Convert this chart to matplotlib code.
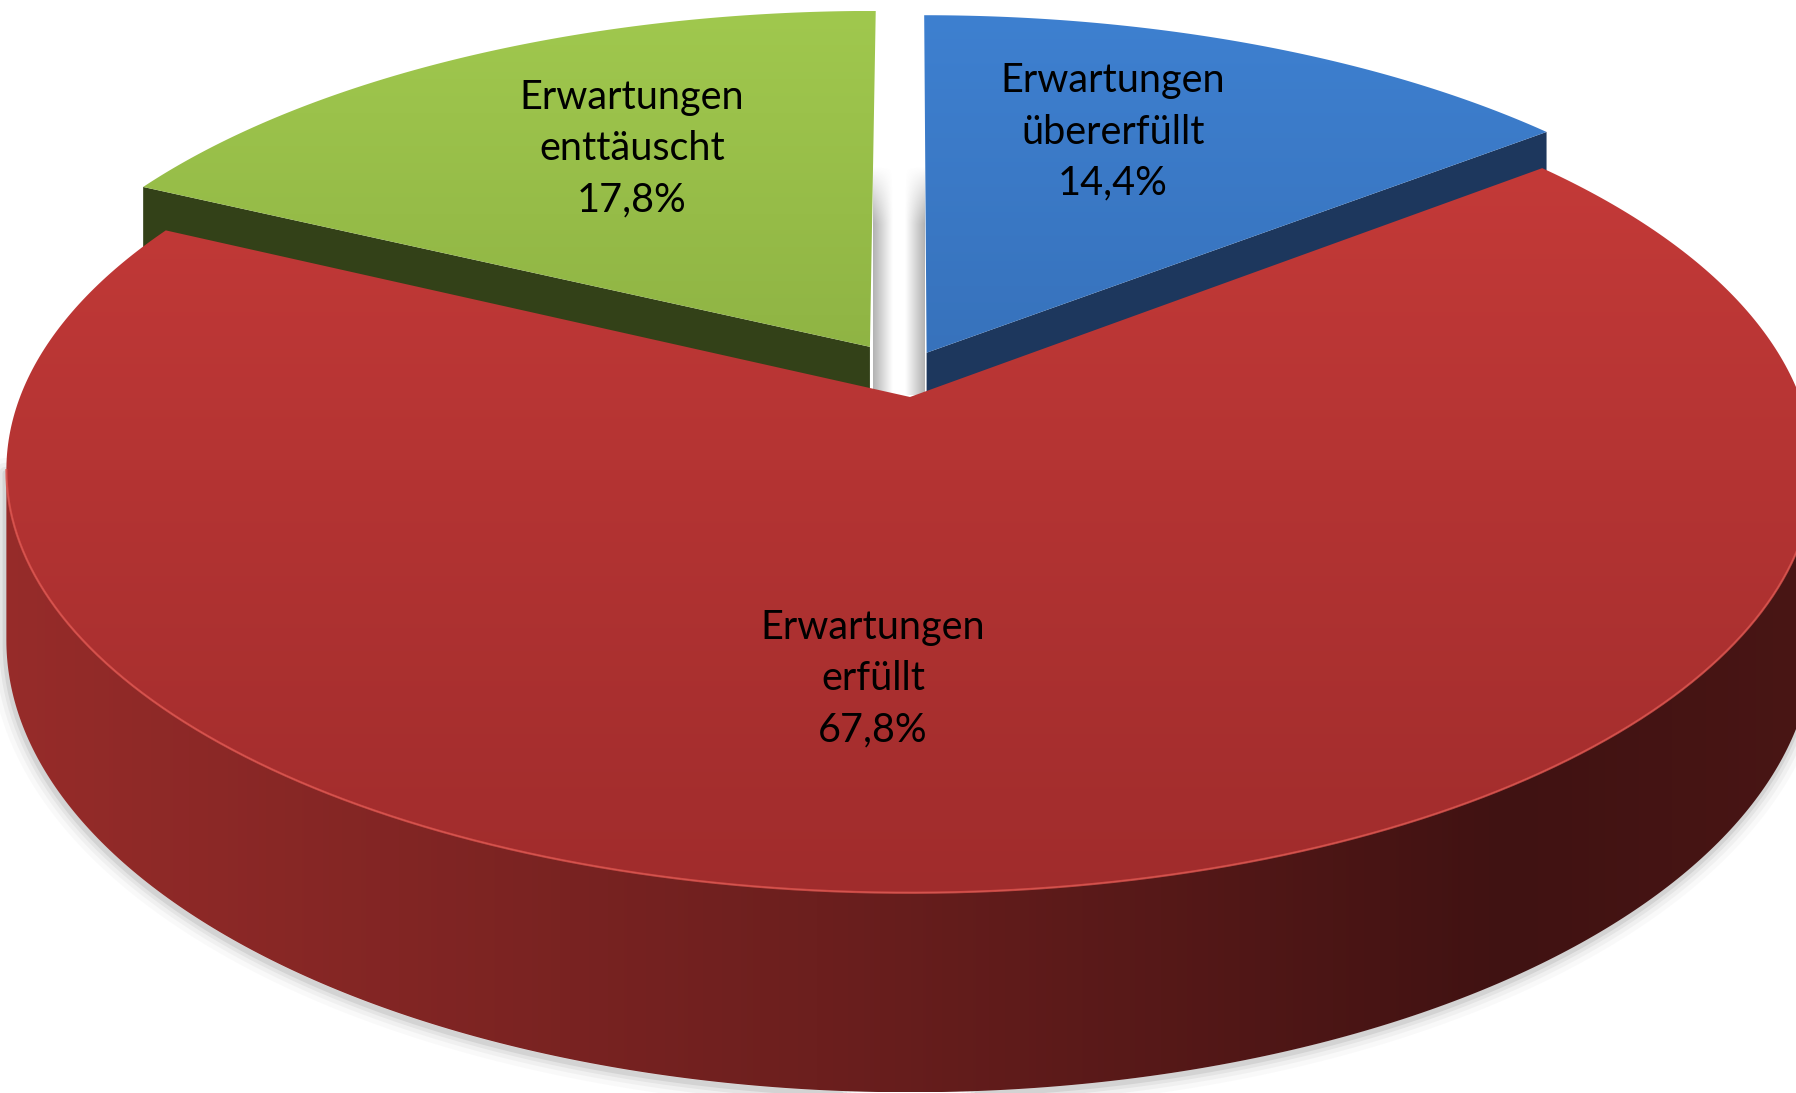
import numpy as np
import matplotlib.pyplot as plt
from matplotlib.patches import Polygon

# chart data
labels = ['Erwartungen\nübererfüllt', 'Erwartungen\nerfüllt', 'Erwartungen\nenttäuscht']
shares = [14.4, 67.8, 17.8]

# styles per slice: top light, top dark, cut face
top_light = [(62, 128, 208), (201, 60, 58), (160, 200, 78)]
top_dark = [(45, 95, 160), (160, 44, 44), (120, 152, 54)]
face_col = [(29, 55, 93), (90, 25, 25), (51, 65, 24)]
explode = [(0.019, 0.11), (0.0, 0.0), (-0.046, 0.125)]
label_xy = [(1113, 132), (873, 679), (632, 149)]

# view (pixel space of the 1796x1093 picture)
W, H = 1796, 1093
CX, CY = 910.0, 397.0
FX, FY, T = 890.0, 410.0, 0.173
DEPTH = 165.0
START = 90.0


def proj(u, v, z=0.0):
    w = 1 + T * v
    return CX + FX * u / w, CY - FY * v / w + z * DEPTH / w


def rgb(c):
    return np.array(c, dtype=float) / 255


def grad_fill(ax, xy, stops, vertical=True, span=None, zorder=1):
    poly = Polygon(xy, closed=True, facecolor='none', edgecolor='none')
    ax.add_patch(poly)
    x0, y0 = xy.min(axis=0)
    x1, y1 = xy.max(axis=0)
    if span is not None:
        if vertical:
            y0, y1 = span
        else:
            x0, x1 = span
    pos = np.array([s[0] for s in stops])
    cols = np.array([rgb(s[1]) for s in stops])
    t = np.linspace(0, 1, 512)
    img = np.stack([np.interp(t, pos, cols[:, k]) for k in range(3)], axis=1)
    img = img[:, None, :] if vertical else img[None, :, :]
    im = ax.imshow(img, extent=(x0, x1, y1, y0), origin='upper', aspect='auto',
                   interpolation='bilinear', zorder=zorder)
    im.set_clip_path(poly)
    return poly


fig = plt.figure(figsize=(W / 100, H / 100), dpi=100)
ax = fig.add_axes([0, 0, 1, 1])
ax.set_axis_off()

spans = np.array(shares) / sum(shares) * 360
edges = START - np.concatenate([[0], np.cumsum(spans)])
sil_lo, sil_hi = -180 + np.degrees(np.arcsin(T)), -np.degrees(np.arcsin(T))

# draw back slices first
mids = [(edges[i] + edges[i + 1]) / 2 for i in range(len(shares))]
order = sorted(range(len(shares)), key=lambda i: -np.sin(np.radians(mids[i])))

for i in order:
    a0, a1 = edges[i], edges[i + 1]
    du, dv = explode[i]
    zb = 2 + 3 * order.index(i)

    # outer wall (front part only)
    lo, hi = max(min(a0, a1), sil_lo), min(max(a0, a1), sil_hi)
    if lo < hi:
        th = np.radians(np.linspace(lo, hi, 300))
        tx, ty = proj(du + np.cos(th), dv + np.sin(th))
        bx, by = proj(du + np.cos(th), dv + np.sin(th), 1.0)
        wall = np.vstack([np.column_stack([tx, ty]), np.column_stack([bx, by])[::-1]])
        # soft shadow round the wall
        outline = np.column_stack([np.r_[tx[0], bx, tx[-1]], np.r_[ty[0], by, ty[-1]]])
        for lw, al in [(22, 0.03), (15, 0.05), (9, 0.08), (4, 0.12)]:
            ax.plot(outline[:, 0] - 1, outline[:, 1] + 3, color='0.35', lw=lw, alpha=al,
                    solid_capstyle='round', solid_joinstyle='round', zorder=zb - 0.5)
        grad_fill(ax, wall, [(0, (152, 44, 42)), (0.45, (108, 31, 30)),
                             (0.82, (64, 18, 18)), (1, (74, 22, 21))],
                  vertical=False, span=(proj(-1 / np.sqrt(1 - T ** 2), -T)[0],
                                        proj(1 / np.sqrt(1 - T ** 2), -T)[0]),
                  zorder=zb)

    # cut faces turned to the viewer
    for ang, nrm in [(a0, a0 + 90), (a1, a1 - 90)]:
        if np.sin(np.radians(nrm)) < -0.05:
            c, s = np.cos(np.radians(ang)), np.sin(np.radians(ang))
            p = [proj(du, dv), proj(du + c, dv + s), proj(du + c, dv + s, 1.0), proj(du, dv, 1.0)]
            ax.add_patch(Polygon(p, closed=True, facecolor=rgb(face_col[i]),
                                 edgecolor='none', zorder=zb + 0.5))

    # top surface
    th = np.radians(np.linspace(a0, a1, 400))
    tx, ty = proj(du + np.cos(th), dv + np.sin(th))
    ax0, ay0 = proj(du, dv)
    top = np.vstack([[ax0, ay0], np.column_stack([tx, ty])])
    grad_fill(ax, top, [(0, top_light[i]), (1, top_dark[i])], vertical=True,
              span=(proj(0, 1 + dv)[1], proj(0, -1 + dv)[1]), zorder=zb + 1)
    if lo < hi:
        th = np.radians(np.linspace(lo, hi, 300))
        tx, ty = proj(du + np.cos(th), dv + np.sin(th))
        ax.plot(tx, ty, color=rgb((222, 84, 78)), lw=1.6, alpha=0.8, zorder=zb + 1.5)

# soft shading in the gap between the exploded slices
gx_l = proj(explode[2][0], 0.6)[0]
gx_r = proj(explode[0][0], 0.6)[0]
for x0, x1, flip in [(gx_l, gx_l + 20, False), (gx_r - 20, gx_r, True)]:
    ramp = np.linspace(0.55, 0.0, 64)
    if flip:
        ramp = ramp[::-1]
    img = np.zeros((64, 64, 4))
    img[..., :3] = 0.45
    vert = np.clip(np.linspace(0, 1, 64) * 4, 0, 1)
    img[..., 3] = vert[:, None] * ramp[None, :]
    ax.imshow(img, extent=(x0, x1, 395, 165), origin='upper', aspect='auto',
              interpolation='bilinear', zorder=1.5)

plt.rcParams['font.family'] = ['Lato', 'DejaVu Sans']
for i, lab in enumerate(labels):
    pct = f'{shares[i]:.1f}'.replace('.', ',') + '%'
    ax.text(label_xy[i][0], label_xy[i][1], f'{lab}\n{pct}', ha='center', va='center',
            multialignment='center', fontsize=28.5, linespacing=1.48, color='black',
            family=['Lato', 'DejaVu Sans'], zorder=50)

ax.set_xlim(0, W)
ax.set_ylim(H, 0)
fig.savefig('out.png', dpi=100, facecolor='white')
